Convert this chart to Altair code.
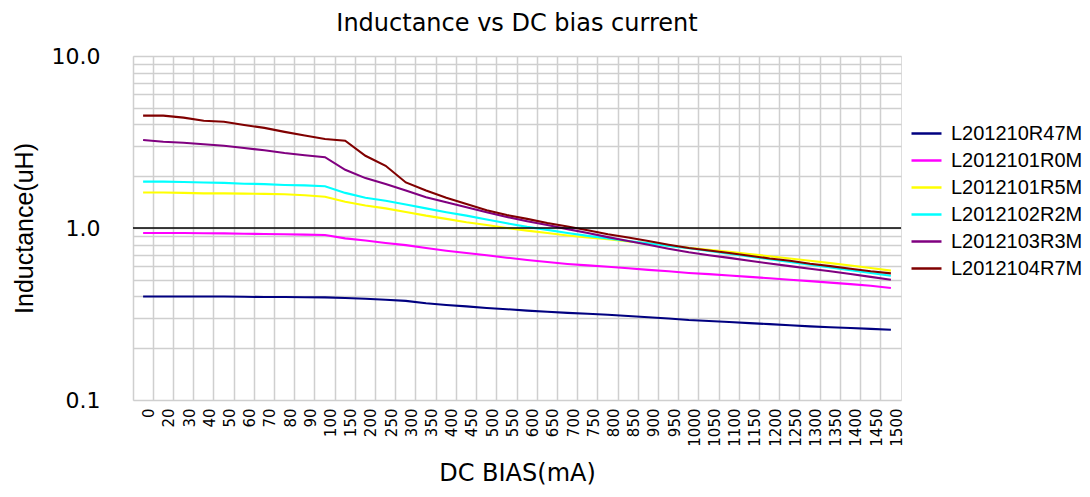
import altair as alt
import pandas as pd

categories = ["0", "20", "30", "40", "50", "60", "70", "80", "90", "100",
              "150", "200", "250", "300", "350", "400", "450", "500", "550", "600",
              "650", "700", "750", "800", "850", "900", "950", "1000", "1050", "1100",
              "1150", "1200", "1250", "1300", "1350", "1400", "1450", "1500"]

series_names = ["L201210R47M", "L2012101R0M", "L2012101R5M",
                "L2012102R2M", "L2012103R3M", "L2012104R7M"]
series_colors = ["#000080", "#FF00FF", "#FFFF00", "#00FFFF", "#800080", "#800000"]

r47m = [0.40, 0.40, 0.40, 0.40, 0.40, 0.398, 0.397, 0.397, 0.396, 0.395,
        0.392, 0.388, 0.383, 0.377, 0.365, 0.357, 0.350, 0.343, 0.337, 0.331,
        0.326, 0.321, 0.317, 0.313, 0.308, 0.303, 0.298, 0.292, 0.288, 0.284,
        0.280, 0.276, 0.272, 0.268, 0.265, 0.262, 0.259, 0.256]
r0m = [0.935, 0.935, 0.935, 0.933, 0.93, 0.926, 0.923, 0.92, 0.915, 0.91,
       0.87, 0.845, 0.818, 0.795, 0.765, 0.738, 0.716, 0.695, 0.672, 0.652,
       0.634, 0.618, 0.606, 0.595, 0.583, 0.571, 0.56, 0.548, 0.539, 0.53,
       0.52, 0.51, 0.50, 0.491, 0.481, 0.472, 0.462, 0.448]
r5m = [1.61, 1.61, 1.60, 1.59, 1.59, 1.585, 1.58, 1.57, 1.55, 1.52,
       1.42, 1.35, 1.30, 1.24, 1.18, 1.13, 1.08, 1.04, 1.0, 0.965,
       0.935, 0.905, 0.88, 0.86, 0.835, 0.815, 0.79, 0.768, 0.747, 0.726,
       0.705, 0.685, 0.665, 0.645, 0.625, 0.605, 0.585, 0.565]
r2m = [1.86, 1.86, 1.85, 1.84, 1.83, 1.81, 1.80, 1.78, 1.77, 1.75,
       1.60, 1.50, 1.44, 1.37, 1.30, 1.235, 1.18, 1.12, 1.065, 1.015,
       0.975, 0.935, 0.90, 0.87, 0.84, 0.815, 0.787, 0.762, 0.735, 0.708,
       0.683, 0.658, 0.635, 0.612, 0.59, 0.568, 0.548, 0.528]
r3m = [3.25, 3.17, 3.13, 3.07, 3.01, 2.92, 2.83, 2.73, 2.65, 2.58,
       2.18, 1.95, 1.80, 1.65, 1.51, 1.41, 1.32, 1.235, 1.16, 1.095,
       1.04, 0.985, 0.935, 0.885, 0.84, 0.80, 0.758, 0.722, 0.695, 0.67,
       0.645, 0.622, 0.60, 0.58, 0.56, 0.54, 0.52, 0.50]
r7m = [4.50, 4.50, 4.38, 4.20, 4.15, 3.97, 3.82, 3.62, 3.45, 3.29,
       3.22, 2.63, 2.30, 1.84, 1.65, 1.50, 1.38, 1.27, 1.19, 1.13,
       1.07, 1.02, 0.97, 0.92, 0.88, 0.84, 0.80, 0.765, 0.74, 0.715,
       0.69, 0.665, 0.645, 0.62, 0.60, 0.58, 0.56, 0.545]

y_grid = [0.1, 0.2, 0.3, 0.4, 0.5, 0.6, 0.7, 0.8, 0.9,
          1, 2, 3, 4, 5, 6, 7, 8, 9, 10]
ref_level = [1.0]

rows = []
for name, vals in zip(series_names, [r47m, r0m, r5m, r2m, r3m, r7m]):
    for order, (c, v) in enumerate(zip(categories, vals)):
        rows.append({"bias": c, "L": v, "series": name, "order": order})
df = pd.DataFrame(rows)

GRID = "#cfcfcf"

x_enc = alt.X(
    "bias:N", sort=categories, bandPosition=0.5,
    scale=alt.Scale(type="band", paddingInner=0, paddingOuter=0),
    axis=alt.Axis(title="DC BIAS(mA)", bandPosition=0, labelOffset=6,
                  labelAngle=270, labelFont="DejaVu Sans", labelFontSize=15,
                  labelColor="black", labelPadding=8, labelOverlap=False,
                  grid=True, gridColor=GRID, gridWidth=1.5, ticks=False,
                  domain=False, titleFont="DejaVu Sans", titleFontSize=24,
                  titleFontWeight="normal", titleColor="black", titlePadding=15),
)
y_enc = alt.Y(
    "L:Q",
    scale=alt.Scale(type="log", domain=[0.1, 10]),
    axis=alt.Axis(title="Inductance(uH)", values=y_grid,
                  labelExpr="(abs(datum.value-0.1)<1e-9 || abs(datum.value-1)<1e-9 || abs(datum.value-10)<1e-9) ? format(datum.value, '.1f') : ''",
                  labelFont="DejaVu Sans", labelFontSize=22, labelColor="black",
                  labelPadding=33, labelFlush=False, labelOverlap=False,
                  grid=True, gridColor=GRID, gridWidth=1.5, ticks=False,
                  domain=False, titleFont="Liberation Sans", titleFontSize=25,
                  titleFontWeight="normal", titleColor="black", titlePadding=14),
)

rule = alt.Chart(pd.DataFrame({"L": ref_level})).mark_rule(
    color="black", strokeWidth=1.3
).encode(y=alt.Y("L:Q", scale=alt.Scale(type="log", domain=[0.1, 10])))

lines = alt.Chart(df).mark_line(strokeWidth=2.1).encode(
    x=x_enc,
    y=y_enc,
    order="order:Q",
    color=alt.Color(
        "series:N",
        scale=alt.Scale(domain=series_names, range=series_colors),
        legend=alt.Legend(title=None, orient="none", legendX=777, legendY=61,
                          symbolType="stroke", symbolSize=900,
                          symbolStrokeWidth=2.5, labelFont="Liberation Sans",
                          labelFontSize=20, labelColor="black",
                          rowPadding=0, labelOffset=8, labelLimit=200),
    ),
)

chart = alt.layer(lines, rule).properties(
    width=768, height=344,
    title=alt.TitleParams("Inductance vs DC bias current", font="DejaVu Sans",
                          fontSize=24, fontWeight="normal", color="black",
                          anchor="middle", offset=9),
    autosize=alt.AutoSizeParams(type="none"),
    padding={"left": 125, "top": 48, "right": 181, "bottom": 89},
).configure_view(stroke=GRID, strokeWidth=1.5).configure(background="white")

chart.save("out.html", embed_options={"renderer": "svg", "actions": False})
